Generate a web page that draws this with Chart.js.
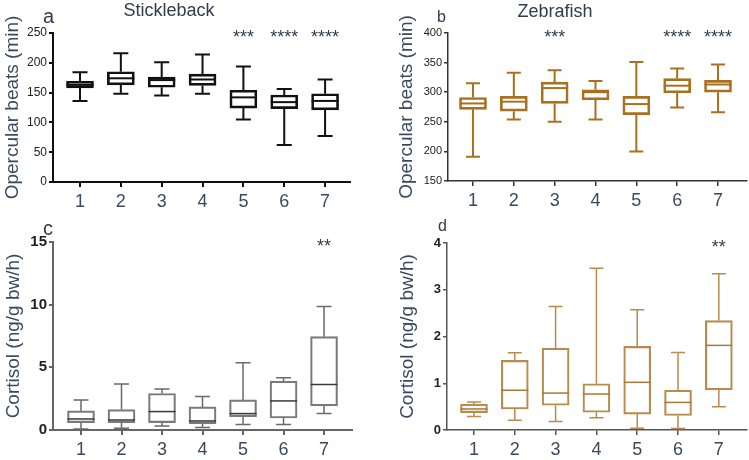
<!DOCTYPE html>
<html><head><meta charset="utf-8">
<script src="https://cdn.jsdelivr.net/npm/chart.js@4.4.1/dist/chart.umd.min.js"></script>
<style>
body{margin:0;width:749px;height:460px;background:#fff;position:relative;overflow:hidden;font-family:"Liberation Sans",Arial,sans-serif;}
canvas{position:absolute;}
.lbl{position:absolute;color:#2f3d4e;white-space:nowrap;line-height:1;}
</style></head><body>
<canvas id="pa" width="375" height="230" style="left:0;top:0"></canvas>
<canvas id="pb" width="374" height="230" style="left:375px;top:0"></canvas>
<canvas id="pc" width="375" height="230" style="left:0;top:230px"></canvas>
<canvas id="pd" width="374" height="230" style="left:375px;top:230px"></canvas>
<div class="lbl" style="left:169px;top:1px;font-size:18px;transform:translateX(-50%)">Stickleback</div>
<div class="lbl" style="left:555px;top:2px;font-size:18px;transform:translateX(-50%)">Zebrafish</div>
<div class="lbl" style="left:43px;top:6px;font-size:20px">a</div>
<div class="lbl" style="left:437px;top:9px;font-size:16px">b</div>
<div class="lbl" style="left:43px;top:218px;font-size:20px">c</div>
<div class="lbl" style="left:438px;top:218px;font-size:16px">d</div>
<script>
const categories = ['1','2','3','4','5','6','7'];
// each entry: [min, Q1, median, Q3, max]
const sticklebackBeats = [[136,158,163,169,184],[148,163,174,185,216],[145,159,171,176,201],[148,162,172,181,214],[105,124,142,154,194],[62,123,134,146,156],[77,121,136,148,172]];
const zebrafishBeats = [[191,271,281,291,315],[254,268,284,293,333],[250,281,307,317,337],[254,287,300,304,319],[200,262,280,293,351],[274,299,311,323,340],[266,300,313,320,347]];
const sticklebackCortisol = [[0.08,0.59,0.88,1.52,2.4],[0.13,0.59,0.80,1.63,3.68],[0.32,0.59,1.47,2.91,3.28],[0.19,0.51,0.72,1.84,2.67],[0.43,1.07,1.31,2.4,5.36],[0.43,0.96,2.32,3.9,4.16],[1.31,1.92,3.63,7.45,9.85]];
const zebrafishCortisol = [[0.29,0.37,0.45,0.55,0.60],[0.21,0.45,0.85,1.49,1.65],[0.18,0.53,0.79,1.75,2.64],[0.26,0.38,0.77,0.99,3.46],[0.04,0.34,1.02,1.79,2.57],[0.03,0.31,0.59,0.85,1.66],[0.50,0.86,1.81,2.34,3.34]];
const sticklebackBeatsSig = ['','','','','***','****','****'];
const zebrafishBeatsSig = ['','','***','','','****','****'];
const sticklebackCortisolSig = ['','','','','','','**'];
const zebrafishCortisolSig = ['','','','','','','**'];

Chart.defaults.font.family = '"Liberation Sans", Arial, sans-serif';

const boxPlugin = {
  id: 'boxwhisk',
  afterDatasetsDraw(chart) {
    const o = chart.options.plugins.boxwhisk;
    const ds = chart.data.datasets[0];
    const xs = chart.scales.x, ys = chart.scales.y;
    const ctx = chart.ctx;
    ctx.save();
    ds.stats.forEach((s, i) => {
      const x = xs.getPixelForValue(i + 1);
      const [mn, q1, md, q3, mx] = s.map(v => ys.getPixelForValue(v));
      ctx.strokeStyle = o.whiskerColor;
      ctx.lineWidth = o.lineWidth;
      ctx.beginPath();
      ctx.moveTo(x, mx); ctx.lineTo(x, q3);
      ctx.moveTo(x, q1); ctx.lineTo(x, mn);
      ctx.moveTo(x - o.capWidth / 2, mx); ctx.lineTo(x + o.capWidth / 2, mx);
      ctx.moveTo(x - o.capWidth / 2, mn); ctx.lineTo(x + o.capWidth / 2, mn);
      ctx.stroke();
      ctx.strokeStyle = o.medianColor;
      ctx.beginPath();
      ctx.moveTo(x - o.boxWidth / 2, md); ctx.lineTo(x + o.boxWidth / 2, md);
      ctx.stroke();
    });
    ctx.fillStyle = '#2f3d4e';
    ctx.font = '18px "Liberation Sans", Arial, sans-serif';
    ctx.textAlign = 'center';
    ctx.textBaseline = 'alphabetic';
    o.sig.forEach((t, i) => {
      if (!t) return;
      ctx.fillText(t, xs.getPixelForValue(i + 1), chart.chartArea.top + 10);
    });
    ctx.restore();
  }
};

function makePanel(id, stats, sig, cfg) {
  new Chart(document.getElementById(id), {
    type: 'bar',
    data: {
      datasets: [{
        stats: stats,
        data: stats.map((s, i) => ({ x: i + 1, y: [s[1], s[3]] })),
        backgroundColor: 'rgba(0,0,0,0)',
        borderColor: cfg.color,
        borderWidth: cfg.lineWidth,
        borderSkipped: false,
        barThickness: cfg.boxWidth
      }]
    },
    options: {
      responsive: false,
      devicePixelRatio: 1,
      animation: false,
      events: [],
      layout: { padding: cfg.padding },
      plugins: {
        legend: { display: false },
        tooltip: { enabled: false },
        boxwhisk: {
          sig: sig, whiskerColor: cfg.whisker || cfg.color, medianColor: cfg.median || cfg.color,
          lineWidth: cfg.lineWidth, capWidth: cfg.capWidth, boxWidth: cfg.boxWidth
        }
      },
      scales: {
        x: {
          type: 'linear', offset: false, min: cfg.xmin, max: cfg.xmax,
          afterBuildTicks: s => { s.ticks = categories.map((c, i) => ({ value: i + 1 })); },
          afterFit: s => { s.height = cfg.xHeight; },
          border: { display: true, color: cfg.axisColor, width: cfg.axisWidth },
          grid: { display: true, offset: false, drawOnChartArea: false, drawTicks: true, tickLength: 5, color: cfg.axisColor, lineWidth: cfg.axisWidth },
          ticks: { callback: v => categories[v - 1], font: { size: 18 }, color: '#3a4a5e', padding: 4, maxRotation: 0, autoSkip: false }
        },
        y: {
          min: cfg.ymin, max: cfg.ymax, beginAtZero: false,
          afterFit: s => { s.width = cfg.yWidth; },
          border: { display: true, color: cfg.axisColor, width: cfg.axisWidth },
          grid: { display: true, drawOnChartArea: false, drawTicks: true, tickLength: 4, color: cfg.axisColor, lineWidth: cfg.axisWidth },
          ticks: { stepSize: cfg.step, font: cfg.tickFont, color: '#222', padding: 2 },
          title: { display: true, text: cfg.title, font: { size: 19 }, color: '#3a4a5e', padding: { top: 0, bottom: 0 } }
        }
      }
    },
    plugins: [boxPlugin]
  });
}

makePanel('pa', sticklebackBeats, sticklebackBeatsSig, {
  color: '#111', lineWidth: 2, boxWidth: 27, capWidth: 15,
  padding: { left: 1, top: 33, right: 25, bottom: 0 }, yWidth: 52, xHeight: 48,
  xmin: 0.339, xmax: 7.61, ymin: 0, ymax: 250, step: 50,
  axisColor: '#111', axisWidth: 2, tickFont: { size: 12 }, title: 'Opercular beats (min)'
});
makePanel('pb', zebrafishBeats, zebrafishBeatsSig, {
  color: '#a8701f', lineWidth: 2, boxWidth: 27, capWidth: 14,
  padding: { left: 20, top: 33, right: 2, bottom: 0 }, yWidth: 53, xHeight: 49,
  xmin: 0.388, xmax: 7.71, ymin: 150, ymax: 400, step: 50,
  axisColor: '#333', axisWidth: 1.5, tickFont: { size: 11 }, title: 'Opercular beats (min)'
});
makePanel('pc', sticklebackCortisol, sticklebackCortisolSig, {
  color: '#7a7a7a', whisker: '#6a6a6a', median: '#3a3a3a', lineWidth: 1.5, boxWidth: 27, capWidth: 15,
  padding: { left: 2, top: 12, right: 23, bottom: 0 }, yWidth: 51, xHeight: 30,
  xmin: 0.309, xmax: 7.69, ymin: 0, ymax: 15, step: 5,
  axisColor: '#666', axisWidth: 2, tickFont: { size: 15, weight: 'bold' }, title: 'Cortisol (ng/g bw/h)'
});
makePanel('pd', zebrafishCortisol, zebrafishCortisolSig, {
  color: '#b88c4e', whisker: '#b88c4e', median: '#a87836', lineWidth: 1.5, boxWidth: 27, capWidth: 14,
  padding: { left: 21, top: 13, right: 2, bottom: 0 }, yWidth: 51, xHeight: 30,
  xmin: 0.339, xmax: 7.69, ymin: 0, ymax: 4, step: 1,
  axisColor: '#555', axisWidth: 1.5, tickFont: { size: 13, weight: 'bold' }, title: 'Cortisol (ng/g bw/h)'
});
</script>
</body></html>
